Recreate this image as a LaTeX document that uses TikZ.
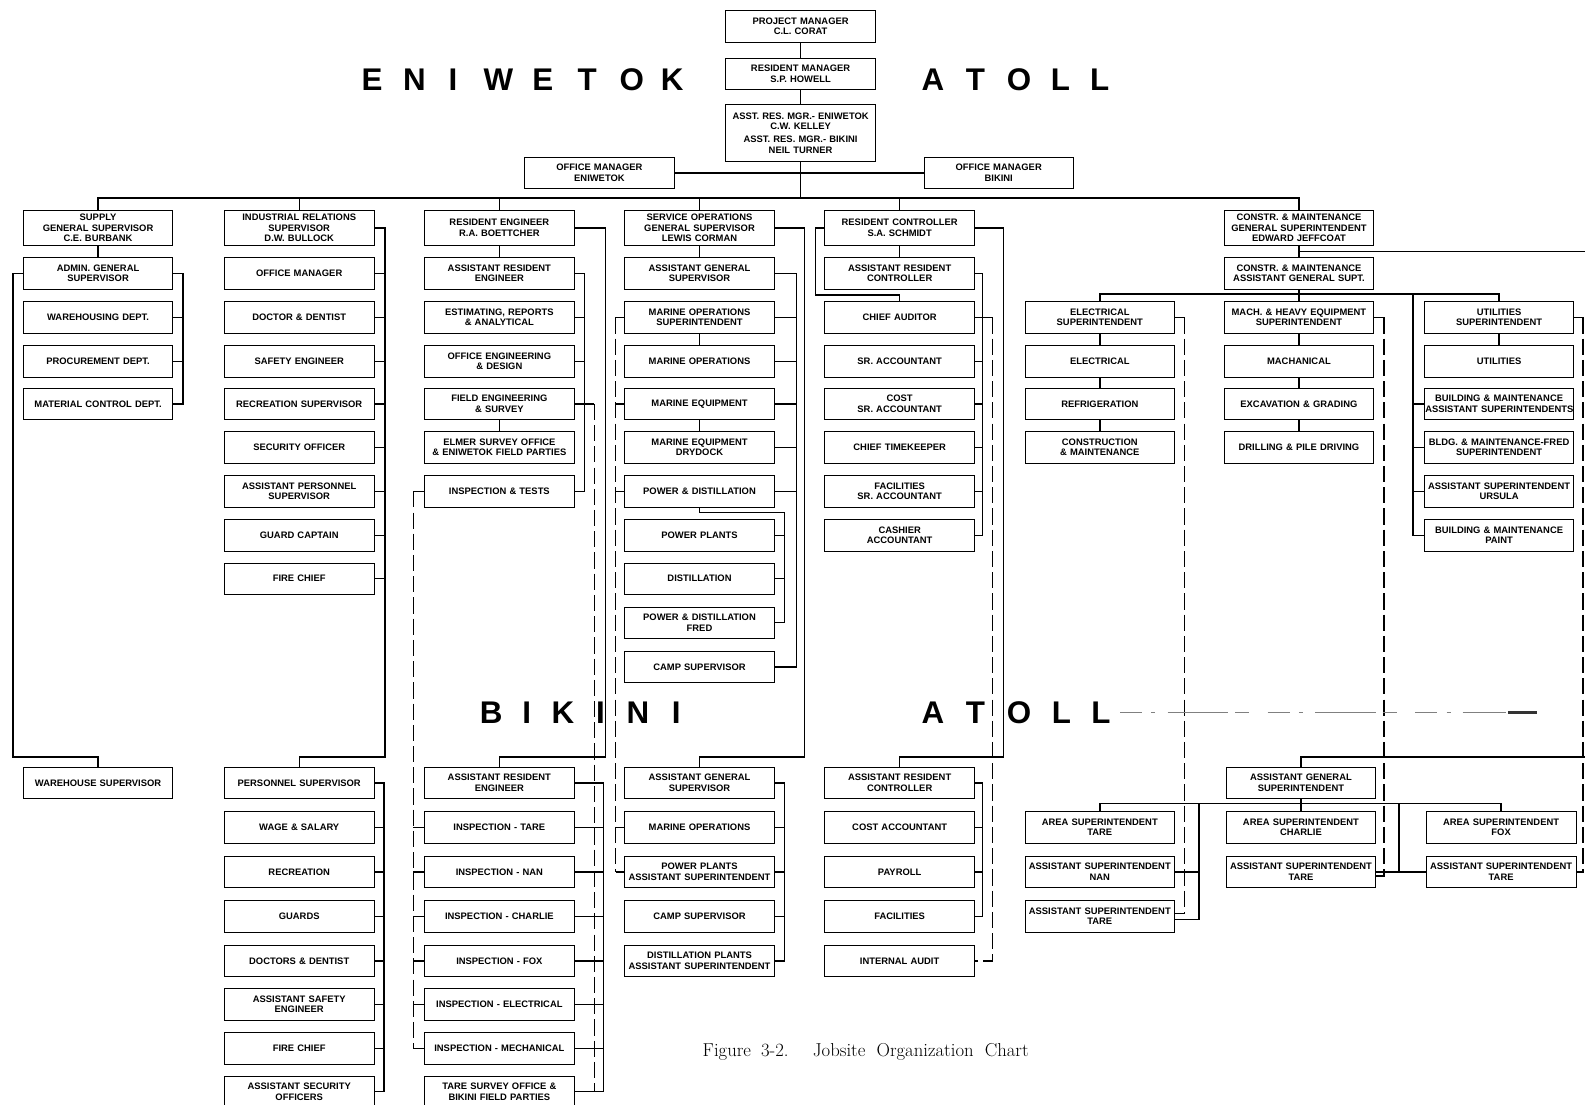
\documentclass[tikz,border=0pt]{standalone}
\usepackage{fontspec}
\setsansfont{Liberation Sans}
\newcommand{\postfont}{\sffamily\bfseries\fontsize{9.3}{10.3}\selectfont}
\newcommand{\atollfont}{\sffamily\bfseries\fontsize{31}{31}\selectfont}
\tikzset{
  post/.style={draw, line width=0.8pt, minimum width=148pt, minimum height=31pt,
    text width=146pt, align=center, inner sep=1pt, font=\postfont},
  post3/.style={post, minimum height=35pt},
  wire/.style={line width=1.4pt},
  farwire/.style={wire, dash pattern=on 16pt off 5pt},
  atoll/.style={anchor=base, inner sep=0pt, font=\atollfont},
}

\begin{document}
\begin{tikzpicture}[x=1pt,y=-1pt]
\fill[white] (0,0) rectangle (1568,1093);
\useasboundingbox (0,0) rectangle (1568,1093);

% atoll headings
\foreach \ch/\x [count=\i] in {E/368,N/410,I/448,W/493,E/537,T/581,O/625,K/665}
  \node[atoll] (eni-\i) at (\x,90) {\ch};
\foreach \ch/\x [count=\i] in {A/923,T/965,O/1008,L/1049,L/1088}
  \node[atoll] (atollA-\i) at (\x,90) {\ch};
\foreach \ch/\x [count=\i] in {B/486,I/521,K/557,I/594,N/631,I/669}
  \node[atoll] (bik-\i) at (\x,716) {\ch};
\foreach \ch/\x [count=\i] in {A/923,T/965,O/1008,L/1050,L/1089}
  \node[atoll] (atollB-\i) at (\x,716) {\ch};

% management
\node[post] (pm) at (792,26) {PROJECT MANAGER\\C.L. CORAT};
\node[post] (rm) at (792,73) {RESIDENT MANAGER\\S.P. HOWELL};
\node[post, minimum height=57pt] (arm) at (792,131.5) {ASST. RES. MGR.- ENIWETOK\\C.W. KELLEY\\[3pt]ASST. RES. MGR.- BIKINI\\NEIL TURNER};
\node[post] (ome) at (593,171) {OFFICE MANAGER\\ENIWETOK};
\node[post] (omb) at (988,171) {OFFICE MANAGER\\BIKINI};

% eniwetok department heads
\node[post3] (sup) at (97,225.5) {SUPPLY\\GENERAL SUPERVISOR\\C.E. BURBANK};
\node[post3] (ind) at (296,225.5) {INDUSTRIAL RELATIONS\\SUPERVISOR\\D.W. BULLOCK};
\node[post3] (res) at (494,225.5) {RESIDENT ENGINEER\\R.A. BOETTCHER};
\node[post3] (sog) at (692,225.5) {SERVICE OPERATIONS\\GENERAL SUPERVISOR\\LEWIS CORMAN};
\node[post3] (rcn) at (890,225.5) {RESIDENT CONTROLLER\\S.A. SCHMIDT};
\node[post3] (cmgs) at (1285,225.5) {CONSTR. \& MAINTENANCE\\GENERAL SUPERINTENDENT\\EDWARD JEFFCOAT};

% supply
\node[post] (adm) at (97,270.5) {ADMIN. GENERAL\\SUPERVISOR};
\node[post] (whd) at (97,314) {WAREHOUSING DEPT.};
\node[post] (prc) at (97,357.5) {PROCUREMENT DEPT.};
\node[post] (mat) at (97,399.5) {MATERIAL CONTROL DEPT.};

% industrial relations
\node[post] (om2) at (296,270.5) {OFFICE MANAGER};
\node[post] (doc) at (296,314) {DOCTOR \& DENTIST};
\node[post] (saf) at (296,357.5) {SAFETY ENGINEER};
\node[post] (rec) at (296,399.5) {RECREATION SUPERVISOR};
\node[post] (sec) at (296,442.5) {SECURITY OFFICER};
\node[post] (aps) at (296,486) {ASSISTANT PERSONNEL\\SUPERVISOR};
\node[post] (grd) at (296,529.5) {GUARD CAPTAIN};
\node[post] (fir) at (296,572.5) {FIRE CHIEF};

% resident engineer
\node[post] (are) at (494,270.5) {ASSISTANT RESIDENT\\ENGINEER};
\node[post] (est) at (494,314) {ESTIMATING, REPORTS\\\& ANALYTICAL};
\node[post] (oed) at (494,357.5) {OFFICE ENGINEERING\\\& DESIGN};
\node[post] (feg) at (494,399.5) {FIELD ENGINEERING\\\& SURVEY};
\node[post] (elm) at (494,442.5) {ELMER SURVEY OFFICE\\\& ENIWETOK FIELD PARTIES};
\node[post] (int) at (494,486) {INSPECTION \& TESTS};

% service operations
\node[post] (ags) at (692,270.5) {ASSISTANT GENERAL\\SUPERVISOR};
\node[post] (mos) at (692,314) {MARINE OPERATIONS\\SUPERINTENDENT};
\node[post] (mop) at (692,357.5) {MARINE OPERATIONS};
\node[post] (meq) at (692,399.5) {MARINE EQUIPMENT};
\node[post] (mdd) at (692,442.5) {MARINE EQUIPMENT\\DRYDOCK};
\node[post] (pds) at (692,486) {POWER \& DISTILLATION};
\node[post] (ppl) at (692,529.5) {POWER PLANTS};
\node[post] (dst) at (692,572.5) {DISTILLATION};
\node[post] (pdf) at (692,616) {POWER \& DISTILLATION\\FRED};
\node[post] (cmp) at (692,660) {CAMP SUPERVISOR};

% resident controller
\node[post] (arc) at (890,270.5) {ASSISTANT RESIDENT\\CONTROLLER};
\node[post] (cau) at (890,314) {CHIEF AUDITOR};
\node[post] (sra) at (890,357.5) {SR. ACCOUNTANT};
\node[post] (csa) at (890,399.5) {COST\\SR. ACCOUNTANT};
\node[post] (ctk) at (890,442.5) {CHIEF TIMEKEEPER};
\node[post] (fsa) at (890,486) {FACILITIES\\SR. ACCOUNTANT};
\node[post] (cas) at (890,529.5) {CASHIER\\ACCOUNTANT};

% construction and maintenance
\node[post] (cmag) at (1285,270.5) {CONSTR. \& MAINTENANCE\\ASSISTANT GENERAL SUPT.};
\node[post] (esu) at (1088,314) {ELECTRICAL\\SUPERINTENDENT};
\node[post] (ele) at (1088,357.5) {ELECTRICAL};
\node[post] (ref) at (1088,399.5) {REFRIGERATION};
\node[post] (cnm) at (1088,442.5) {CONSTRUCTION\\\& MAINTENANCE};
\node[post] (mhe) at (1285,314) {MACH. \& HEAVY EQUIPMENT\\SUPERINTENDENT};
\node[post] (mch) at (1285,357.5) {MACHANICAL};
\node[post] (exg) at (1285,399.5) {EXCAVATION \& GRADING};
\node[post] (dpd) at (1285,442.5) {DRILLING \& PILE DRIVING};
\node[post] (usu) at (1483,314) {UTILITIES\\SUPERINTENDENT};
\node[post] (uti) at (1483,357.5) {UTILITIES};
\node[post] (bma) at (1483,399.5) {BUILDING \& MAINTENANCE\\\mbox{ASSISTANT SUPERINTENDENTS}};
\node[post] (bmf) at (1483,442.5) {BLDG. \& MAINTENANCE-FRED\\SUPERINTENDENT};
\node[post] (asu) at (1483,486) {ASSISTANT SUPERINTENDENT\\URSULA};
\node[post] (bmp) at (1483,529.5) {BUILDING \& MAINTENANCE\\PAINT};

% bikini
\node[post] (whs) at (97,774.5) {WAREHOUSE SUPERVISOR};

\node[post] (per) at (296,774.5) {PERSONNEL SUPERVISOR};
\node[post] (wag) at (296,818.5) {WAGE \& SALARY};
\node[post] (rcr) at (296,862.5) {RECREATION};
\node[post] (gds) at (296,906.5) {GUARDS};
\node[post] (dds) at (296,950.5) {DOCTORS \& DENTIST};
\node[post] (ase) at (296,993.5) {ASSISTANT SAFETY\\ENGINEER};
\node[post] (fc2) at (296,1037) {FIRE CHIEF};
\node[post] (aso) at (296,1080) {ASSISTANT SECURITY\\OFFICERS};

\node[post] (bare) at (494,774.5) {ASSISTANT RESIDENT\\ENGINEER};
\node[post] (itare) at (494,818.5) {INSPECTION - TARE};
\node[post] (inan) at (494,862.5) {INSPECTION - NAN};
\node[post] (ichar) at (494,906.5) {INSPECTION - CHARLIE};
\node[post] (ifox) at (494,950.5) {INSPECTION - FOX};
\node[post] (ielec) at (494,993.5) {INSPECTION - ELECTRICAL};
\node[post] (imech) at (494,1037) {INSPECTION - MECHANICAL};
\node[post] (tso) at (494,1080) {TARE SURVEY OFFICE \&\\BIKINI FIELD PARTIES};

\node[post] (bags) at (692,774.5) {ASSISTANT GENERAL\\SUPERVISOR};
\node[post] (bmop) at (692,818.5) {MARINE OPERATIONS};
\node[post] (ppas) at (692,862.5) {POWER PLANTS\\ASSISTANT SUPERINTENDENT};
\node[post] (bcmp) at (692,906.5) {CAMP SUPERVISOR};
\node[post] (dpas) at (692,950.5) {DISTILLATION PLANTS\\ASSISTANT SUPERINTENDENT};

\node[post] (barc) at (890,774.5) {ASSISTANT RESIDENT\\CONTROLLER};
\node[post] (cac) at (890,818.5) {COST ACCOUNTANT};
\node[post] (pay) at (890,862.5) {PAYROLL};
\node[post] (fac) at (890,906.5) {FACILITIES};
\node[post] (iau) at (890,950.5) {INTERNAL AUDIT};

\node[post] (bags6) at (1287,774.5) {ASSISTANT GENERAL\\SUPERINTENDENT};
\node[post] (art) at (1088,818.5) {AREA SUPERINTENDENT\\TARE};
\node[post] (asn) at (1088,862.5) {ASSISTANT SUPERINTENDENT\\NAN};
\node[post] (ast1) at (1088,906.5) {ASSISTANT SUPERINTENDENT\\TARE};
\node[post] (arc2) at (1287,818.5) {AREA SUPERINTENDENT\\CHARLIE};
\node[post] (ast2) at (1287,862.5) {ASSISTANT SUPERINTENDENT\\TARE};
\node[post] (arf) at (1485,818.5) {AREA SUPERINTENDENT\\FOX};
\node[post] (ast3) at (1485,862.5) {ASSISTANT SUPERINTENDENT\\TARE};

\node[font=\rmfamily\fontsize{18.5}{18.5}\selectfont, anchor=base west, inner sep=0pt] (caption)
  at (695,1045) {Figure\hspace{10pt}3-2.\hspace{24pt}Jobsite\hspace{11pt}Organization\hspace{11pt}Chart};

% turning points of the long runs
\coordinate (mainbus) at (792,196);
\coordinate (adminR) at (181,0);
\coordinate (whsturn) at (13,749);
\coordinate (indturn) at (381,749);
\coordinate (persR) at (380,0);
\coordinate (areR) at (578,0);
\coordinate (fieldrun) at (588,0);
\coordinate (bareR) at (597,0);
\coordinate (resturn) at (599,749);
\coordinate (inspL) at (409,0);
\coordinate (marL) at (609,0);
\coordinate (pdsR) at (776,507);
\coordinate (bagsR) at (776,0);
\coordinate (agsR) at (788,0);
\coordinate (sogturn) at (796,749);
\coordinate (rcL) at (807,292);
\coordinate (arcR) at (972,0);
\coordinate (audrun) at (982,0);
\coordinate (rcturn) at (993,749);
\coordinate (cmsplit) at (1285,249);
\coordinate (cmturn) at (1580,749);
\coordinate (cmbus) at (1285,291);
\coordinate (bldgL) at (1398,291);
\coordinate (elecrun) at (1172,0);
\coordinate (machrun) at (1369,0);
\coordinate (utilrun) at (1566,0);
\coordinate (cmbbus) at (1287,795);
\coordinate (tareR) at (1186,795);
\coordinate (charlieR) at (1384,795);

% top of the chart
\draw[wire] (pm.south) -- (rm.north);
\draw[wire] (rm.south) -- (arm.north);
\draw[wire] (arm.south) -- (mainbus);
\draw[wire] (ome.east) -- (omb.west);
\foreach \n in {sup,ind,res,sog,rcn,cmgs}
  \draw[wire] (\n.north) |- (mainbus);

% supply
\draw[wire] (sup.south) -- (adm.north);
\draw[wire] (adm.east) -| (mat.east -| adminR) -- (mat.east);
\foreach \n in {whd,prc}
  \draw[wire] (\n.east) -- (\n.east -| adminR);
\draw[wire] (adm.west) -| (whsturn) -| (whs.north);

% industrial relations
\draw[wire] (ind.east) -| (indturn) -| (per.north);
\foreach \n in {om2,doc,saf,rec,sec,aps,grd,fir}
  \draw[wire] (\n.east) -- (\n.east -| indturn);
\draw[wire] (per.east) -| (aso.east -| persR) -- (aso.east);
\foreach \n in {wag,rcr,gds,dds,ase,fc2}
  \draw[wire] (\n.east) -- (\n.east -| persR);

% resident engineer
\draw[wire] (res.south) -- (are.north);
\draw[wire] (are.east) -| (int.east -| areR) -- (int.east);
\foreach \n in {est,oed}
  \draw[wire] (\n.east) -- (\n.east -| areR);
\draw[wire] (feg.east) -- (feg.east -| fieldrun);
\draw[wire] (feg.south) -- (elm.north);
\draw[farwire] (feg.east -| fieldrun) -- (tso.east -| fieldrun);
\draw[wire] (res.east) -| (resturn) -| (bare.north);
\draw[wire] (bare.east) -| (tso.east -| bareR) -- (tso.east);
\foreach \n in {itare,inan,ichar,ifox,ielec,imech}
  \draw[wire] (\n.east) -- (\n.east -| bareR);
\draw[wire] (int.west) -- (int.west -| inspL);
\draw[farwire] (int.west -| inspL) -- (imech.west -| inspL);
\foreach \n in {itare,inan,ichar,ifox,ielec,imech}
  \draw[wire] (\n.west) -- (\n.west -| inspL);

% service operations
\draw[wire] (sog.south) -- (ags.north);
\draw[wire] (ags.east) -| (cmp.east -| agsR) -- (cmp.east);
\foreach \n in {mos,mop,meq,mdd,pds}
  \draw[wire] (\n.east) -- (\n.east -| agsR);
\draw[wire] (mos.south) -- (mop.north);
\draw[wire] (meq.south) -- (mdd.north);
\draw[wire] (pds.south) |- (pdsR) |- (pdf.east);
\foreach \n in {ppl,dst}
  \draw[wire] (\n.east) -- (\n.east -| pdsR);
\draw[wire] (mos.west) -- (mos.west -| marL);
\draw[farwire] (mos.west -| marL) -- (ppas.west -| marL);
\foreach \n in {meq,pds,bmop,ppas}
  \draw[wire] (\n.west) -- (\n.west -| marL);
\draw[wire] (sog.east) -| (sogturn) -| (bags.north);
\draw[wire] (bags.east) -| (dpas.east -| bagsR) -- (dpas.east);
\foreach \n in {bmop,ppas,bcmp}
  \draw[wire] (\n.east) -- (\n.east -| bagsR);

% resident controller
\draw[wire] (rcn.south) -- (arc.north);
\draw[wire] (rcn.west) -| (rcL) -| (cau.north);
\draw[wire] (arc.east) -| (cas.east -| arcR) -- (cas.east);
\foreach \n in {sra,csa,ctk,fsa}
  \draw[wire] (\n.east) -- (\n.east -| arcR);
\draw[wire] (cau.east) -- (cau.east -| audrun);
\draw[farwire] (cau.east -| audrun) -- (iau.east -| audrun) -- (iau.east);
\draw[wire] (rcn.east) -| (rcturn) -| (barc.north);
\draw[wire] (barc.east) -| (fac.east -| arcR) -- (fac.east);
\foreach \n in {cac,pay}
  \draw[wire] (\n.east) -- (\n.east -| arcR);

% construction and maintenance
\draw[wire] (cmgs.south) -- (cmag.north);
\draw[wire] (cmag.south) -- (mhe.north);
\foreach \n in {esu,usu}
  \draw[wire] (\n.north) |- (cmbus);
\draw[wire] (esu.south) -- (ele.north);
\draw[wire] (ele.south) -- (ref.north);
\draw[wire] (ref.south) -- (cnm.north);
\draw[wire] (mhe.south) -- (mch.north);
\draw[wire] (mch.south) -- (exg.north);
\draw[wire] (exg.south) -- (dpd.north);
\draw[wire] (usu.south) -- (uti.north);
\draw[wire] (bldgL) |- (bmp.west);
\foreach \n in {bma,bmf,asu}
  \draw[wire] (\n.west) -- (\n.west -| bldgL);
\draw[wire] (cmsplit) -| (cmturn) -| (bags6.north);
\draw[wire] (esu.east) -- (esu.east -| elecrun);
\draw[farwire] (esu.east -| elecrun) -- ([yshift=3pt]ast1.east -| elecrun) -- ([yshift=3pt]ast1.east);
\draw[wire] (mhe.east) -- (mhe.east -| machrun);
\draw[farwire] (mhe.east -| machrun) -- ([yshift=-4pt]ast2.east -| machrun) -- ([yshift=-4pt]ast2.east);
\draw[wire] (usu.east) -- (usu.east -| utilrun);
\draw[farwire] (usu.east -| utilrun) -- (ast3.east -| utilrun) -- (ast3.east);

\draw[wire] (bags6.south) -- (arc2.north);
\foreach \n in {art,arf}
  \draw[wire] (\n.north) |- (cmbbus);
\draw[wire] (tareR) |- ([yshift=-3pt]ast1.east);
\draw[wire] (asn.east) -- (asn.east -| tareR);
\draw[wire] (charlieR) |- (ast3.west);
\draw[wire] (ast2.east) -- (ast2.east -| charlieR);

% smudge trailing the lower heading
\draw[black!50, line width=1pt, dash pattern=on 22pt off 9pt on 4pt off 12pt on 60pt off 7pt on 14pt off 18pt]
  (1108,705) -- (1490,705);
\fill[black!80] (1492,703.5) rectangle (1520,706.5);
\end{tikzpicture}
\end{document}
